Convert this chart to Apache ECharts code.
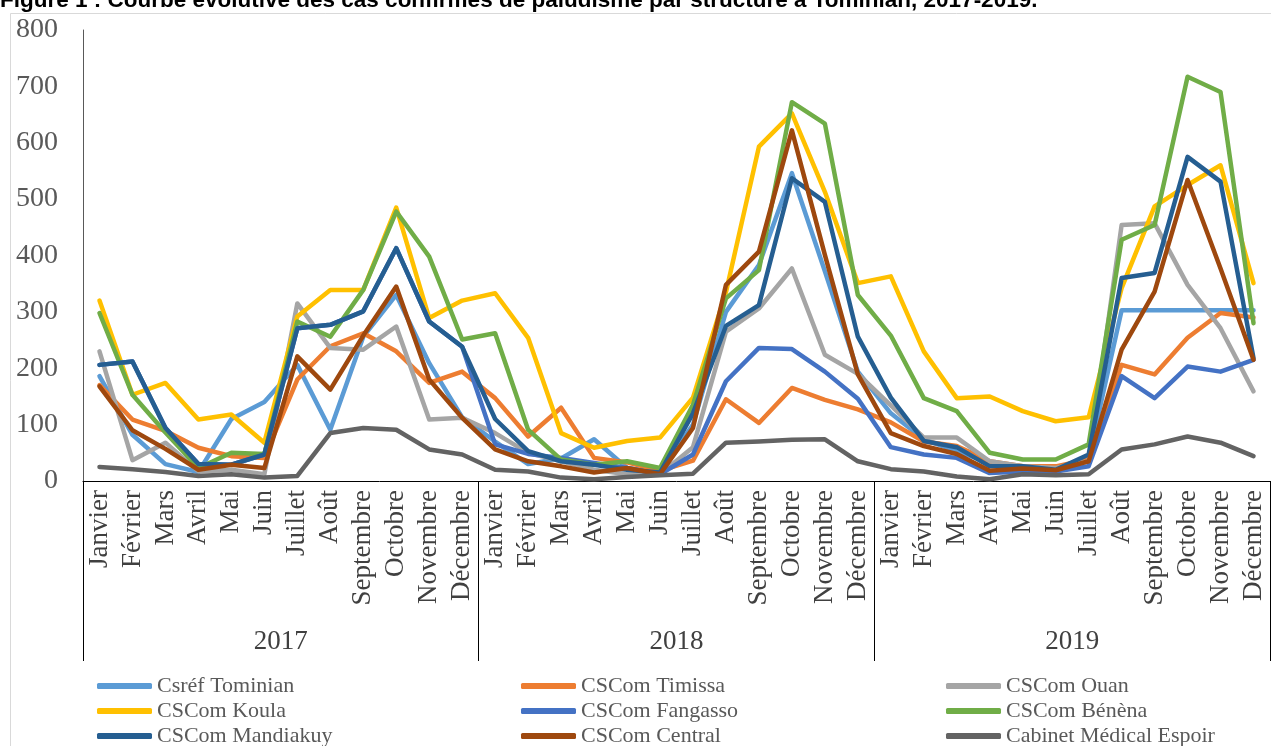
<!DOCTYPE html>
<html>
<head>
<meta charset="utf-8">
<script src="https://cdn.jsdelivr.net/npm/echarts@6/dist/echarts.min.js"></script>
<style>
  html, body { margin: 0; padding: 0; background: #ffffff; }
  #chart { width: 1271px; height: 746px; }
</style>
</head>
<body>
<div id="chart"></div>
<script>
// Month labels (repeated for each year) and year groups
const months = ['Janvier', 'Février', 'Mars', 'Avril', 'Mai', 'Juin', 'Juillet',
  'Août', 'Septembre', 'Octobre', 'Novembre', 'Décembre'];
const years = ['2017', '2018', '2019'];
const yTicks = [0, 100, 200, 300, 400, 500, 600, 700, 800];

// Monthly confirmed malaria cases per health structure, Jan 2017 -> Dec 2019
const csrefTominian = [
  186, 82, 30, 16, 110, 140, 206, 91, 256, 330, 209, 113,
  70, 30, 40, 74, 23, 15, 100, 300, 383, 546, 372, 194,
  120, 74, 53, 32, 26, 23, 41, 303, 303, 303, 303, 303];
const cscomTimissa = [
  170, 109, 89, 59, 44, 41, 180, 239, 262, 230, 174, 194,
  147, 79, 130, 41, 33, 18, 36, 145, 103, 165, 144, 127,
  104, 70, 62, 35, 26, 26, 38, 206, 189, 254, 298, 290];
const cscomOuan = [
  230, 37, 68, 17, 20, 12, 315, 236, 233, 274, 109, 112,
  85, 50, 35, 20, 12, 12, 60, 265, 306, 377, 224, 190,
  134, 77, 77, 35, 26, 23, 35, 454, 457, 348, 271, 159];
const cscomKoula = [
  320, 153, 174, 109, 118, 68, 292, 339, 339, 485, 289, 320,
  333, 254, 85, 59, 71, 77, 148, 335, 593, 652, 513, 351,
  363, 230, 147, 150, 124, 106, 113, 342, 487, 525, 560, 351];
const cscomFangasso = [
  206, 212, 94, 30, 29, 47, 271, 277, 301, 413, 283, 238,
  65, 48, 41, 32, 23, 12, 47, 177, 236, 234, 194, 146,
  60, 47, 41, 14, 17, 17, 26, 186, 147, 203, 194, 215];
const cscomBenena = [
  298, 153, 86, 23, 50, 48, 283, 256, 339, 478, 398, 251,
  262, 91, 38, 29, 35, 23, 135, 324, 374, 672, 634, 330,
  258, 147, 124, 50, 38, 38, 65, 428, 454, 717, 690, 280];
const cscomMandiakuy = [
  206, 212, 94, 30, 29, 47, 271, 277, 301, 413, 283, 238,
  110, 53, 35, 29, 20, 15, 120, 275, 312, 537, 495, 256,
  148, 71, 60, 26, 26, 20, 47, 360, 369, 575, 531, 218];
const cscomCentral = [
  168, 90, 57, 20, 29, 23, 221, 162, 258, 345, 180, 112,
  56, 35, 26, 15, 23, 12, 94, 348, 407, 622, 401, 189,
  85, 62, 48, 18, 22, 19, 35, 233, 336, 534, 377, 215];
const cabinetEspoir = [
  25, 21, 16, 9, 12, 6, 9, 85, 94, 91, 56, 47,
  20, 17, 6, 3, 7, 10, 13, 68, 70, 73, 74, 35,
  21, 17, 8, 3, 12, 10, 12, 56, 65, 79, 68, 44];

const seriesDefs = [
  { name: 'Csréf Tominian', data: csrefTominian, color: '#5B9BD5' },
  { name: 'CSCom Timissa', data: cscomTimissa, color: '#ED7D31' },
  { name: 'CSCom Ouan', data: cscomOuan, color: '#A5A5A5' },
  { name: 'CSCom Koula', data: cscomKoula, color: '#FFC000' },
  { name: 'CSCom Fangasso', data: cscomFangasso, color: '#4472C4' },
  { name: 'CSCom Bénèna', data: cscomBenena, color: '#70AD47' },
  { name: 'CSCom Mandiakuy', data: cscomMandiakuy, color: '#255E91' },
  { name: 'CSCom Central', data: cscomCentral, color: '#9E480E' },
  { name: 'Cabinet Médical Espoir', data: cabinetEspoir, color: '#636363' }
];

const monthAxis = [];
years.forEach(function () { months.forEach(function (m) { monthAxis.push(m); }); });

const serif = "'Liberation Serif', 'Times New Roman', serif";

// One vertical legend column of three entries
function legendColumn(left, names) {
  return {
    orient: 'vertical',
    left: left,
    top: 675,
    height: 90,
    padding: 0,
    data: names,
    icon: 'roundRect',
    itemWidth: 55,
    itemHeight: 6,
    itemGap: 3,
    textStyle: { fontFamily: serif, fontSize: 22, color: '#595959', lineHeight: 22 }
  };
}

const chart = echarts.init(document.getElementById('chart'), null, { renderer: 'canvas' });
chart.setOption({
  animation: false,
  backgroundColor: '#ffffff',
  grid: { left: 83, right: 1, top: 30, bottom: 265, containLabel: false },
  graphic: [
    {
      type: 'rect',
      shape: { x: 10.5, y: 13.5, width: 1300, height: 800 },
      style: { fill: 'none', stroke: '#d9d9d9', lineWidth: 1 },
      silent: true
    },
    {
      type: 'text',
      x: 0, y: 12,
      style: {
        text: 'Figure 1 : Courbe évolutive des cas confirmés de paludisme par structure à Tominian, 2017-2019.',
        font: "bold 22.5px 'Liberation Sans', Arial, sans-serif",
        fill: '#000000',
        verticalAlign: 'bottom'
      },
      silent: true
    }
  ],
  legend: [
    legendColumn(97, ['Csréf Tominian', 'CSCom Koula', 'CSCom Mandiakuy']),
    legendColumn(521, ['CSCom Timissa', 'CSCom Fangasso', 'CSCom Central']),
    legendColumn(946, ['CSCom Ouan', 'CSCom Bénèna', 'Cabinet Médical Espoir'])
  ],
  xAxis: [
    {
      type: 'category',
      data: monthAxis,
      boundaryGap: true,
      axisLine: { show: true, lineStyle: { color: '#000000', width: 1 } },
      axisTick: { show: false },
      axisLabel: {
        rotate: 90, interval: 0, margin: 9,
        fontFamily: serif, fontSize: 27, color: '#404040'
      },
      splitLine: { show: false }
    },
    {
      type: 'category',
      data: years,
      position: 'bottom',
      boundaryGap: true,
      axisLine: { show: false },
      axisTick: { show: true, length: 180, lineStyle: { color: '#000000', width: 1 } },
      axisLabel: { margin: 147, fontFamily: serif, fontSize: 27, color: '#404040' },
      splitLine: { show: false }
    }
  ],
  yAxis: {
    type: 'value',
    min: yTicks[0],
    max: yTicks[yTicks.length - 1],
    interval: 100,
    axisLine: { show: true, lineStyle: { color: '#595959', width: 1 } },
    axisTick: { show: false },
    splitLine: { show: false },
    axisLabel: { margin: 25, fontFamily: serif, fontSize: 28, color: '#595959' }
  },
  series: seriesDefs.map(function (s) {
    return {
      name: s.name,
      type: 'line',
      xAxisIndex: 0,
      data: s.data,
      symbol: 'none',
      color: s.color,
      lineStyle: { width: 4.5, color: s.color, cap: 'round', join: 'round' },
      emphasis: { disabled: true }
    };
  })
});
</script>
</body>
</html>
